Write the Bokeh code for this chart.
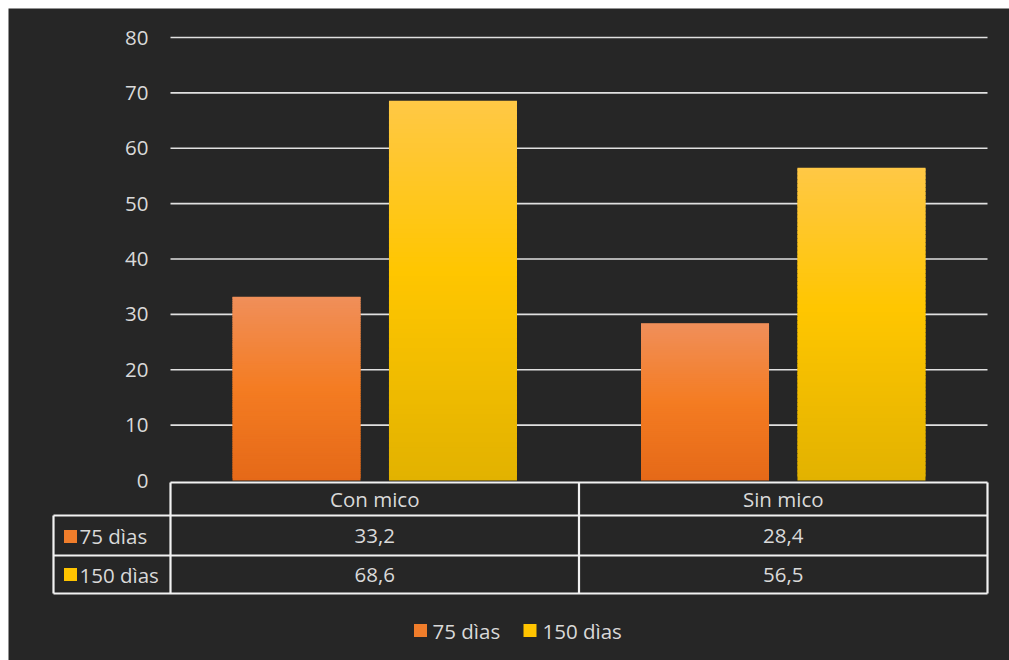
import numpy as np
from bokeh.plotting import figure
from bokeh.models import Range1d, ColumnDataSource
from bokeh.core.properties import value
from bokeh.embed import file_html
from bokeh.resources import INLINE

# ---------------- data ----------------
categories = ["Con mico", "Sin mico"]
series_names = ["75 dìas", "150 dìas"]
dias75 = [33.2, 28.4]
dias150 = [68.6, 56.5]
y_ticks = [0, 10, 20, 30, 40, 50, 60, 70, 80]

# ---------------- styling ----------------
BG = "#262626"
TXT = "#d9d9d9"
LINE = "#f2f2f2"
FONT = value("Open Sans")
FS = "20.5px"
orange_stops = [(0.0, (229, 105, 24)), (0.5, (244, 124, 34)), (1.0, (240, 143, 90))]
yellow_stops = [(0.0, (226, 178, 0)), (0.55, (255, 198, 0)), (1.0, (255, 200, 70))]
legend_colors = ["#F07D2B", "#FFC400"]

W, H = 1009, 660
PX_PER_UNIT_Y = 443 / 80.0   # plot area pixel scale
Y0_PX = 480.0                # pixel row of value 0
X0_PX = 170.0                # pixel column of category axis start
CAT_PX = 408.5               # pixel width of one category


def vy(py):
    return (Y0_PX - py) / PX_PER_UNIT_Y


def ux(px):
    return (px - X0_PX) / CAT_PX


def grad(stops, t):
    for (t0, c0), (t1, c1) in zip(stops[:-1], stops[1:]):
        if t <= t1:
            f = (t - t0) / (t1 - t0) if t1 > t0 else 0
            c = [int(round(a + (b - a) * f)) for a, b in zip(c0, c1)]
            return "#%02x%02x%02x" % tuple(c)
    return "#%02x%02x%02x" % stops[-1][1]


p = figure(width=W, height=H,
           x_range=Range1d(ux(8), ux(W)), y_range=Range1d(vy(H), vy(8)),
           output_backend="svg", toolbar_location=None,
           x_axis_location=None, y_axis_location=None,
           min_border_left=8, min_border_top=8, min_border_right=0, min_border_bottom=0,
           border_fill_color="white", background_fill_color=BG,
           outline_line_color=None)
p.grid.visible = False

n_cat = len(categories)
centers = [i + 0.5 for i in range(n_cat)]

# gridlines
p.segment(x0=[0] * (len(y_ticks) - 1), x1=[n_cat] * (len(y_ticks) - 1),
          y0=y_ticks[1:], y1=y_ticks[1:], line_color="#e0e0e0", line_width=1.6)

# tick labels
p.text(x=[ux(148)] * len(y_ticks), y=y_ticks, text=[str(t) for t in y_ticks],
       text_align="right", text_baseline="middle", text_color=TXT,
       text_font=FONT, text_font_size=FS)

# bars with vertical gradient (stacked slices, each overlapping the next)
bar_w = 128 / CAT_PX
offset = 0.1915
N = 80
for vals, stops, off in [(dias75, orange_stops, -offset), (dias150, yellow_stops, offset)]:
    left, right, bottom, top, col = [], [], [], [], []
    for c, v in zip(centers, vals):
        for k in range(N):
            left.append(c + off - bar_w / 2)
            right.append(c + off + bar_w / 2)
            bottom.append(v * k / N)
            top.append(min(v, v * (k + 1.8) / N))
            col.append(grad(stops, (k + 0.5) / N))
    src = ColumnDataSource(dict(left=left, right=right, bottom=bottom, top=top, col=col))
    p.quad(left="left", right="right", bottom="bottom", top="top", source=src,
           fill_color="col", line_color=None)

# data table
row_lines_y = [vy(482), vy(515), vy(555), vy(593)]
lab_x = ux(53)
# horizontal lines
p.segment(x0=[0, lab_x, lab_x, lab_x], x1=[n_cat] * 4,
          y0=row_lines_y, y1=row_lines_y, line_color=LINE, line_width=2.2)
# vertical lines
vx = [lab_x] + list(range(n_cat + 1))
vy0 = [row_lines_y[1]] + [row_lines_y[0]] * (n_cat + 1)
p.segment(x0=vx, x1=vx, y0=vy0, y1=[row_lines_y[3]] * len(vx),
          line_color=LINE, line_width=2.2)

# header
p.text(x=centers, y=[vy(498)] * n_cat, text=categories, text_align="center",
       text_baseline="middle", text_color=TXT, text_font=FONT, text_font_size=FS)

fmt = lambda v: ("%.1f" % v).replace(".", ",")
row_y = [vy(535), vy(574)]
for vals, ry in zip([dias75, dias150], row_y):
    p.text(x=centers, y=[ry] * n_cat, text=[fmt(v) for v in vals], text_align="center",
           text_baseline="middle", text_color=TXT, text_font=FONT, text_font_size=FS)

# row labels with keys
p.scatter(x=[ux(70)] * 2, y=[vy(536), vy(574)], marker="square", size=13,
          fill_color=legend_colors, line_color=None)
p.text(x=[ux(79)] * 2, y=row_y, text=series_names, text_align="left",
       text_baseline="middle", text_color=TXT, text_font=FONT, text_font_size=FS)

# legend at bottom
p.scatter(x=[ux(420), ux(529.5)], y=[vy(630)] * 2, marker="square", size=13,
          fill_color=legend_colors, line_color=None)
p.text(x=[ux(432), ux(542)], y=[vy(630)] * 2, text=series_names, text_align="left",
       text_baseline="middle", text_color=TXT, text_font=FONT, text_font_size=FS)

open("out.html", "w").write(file_html(p, INLINE))
